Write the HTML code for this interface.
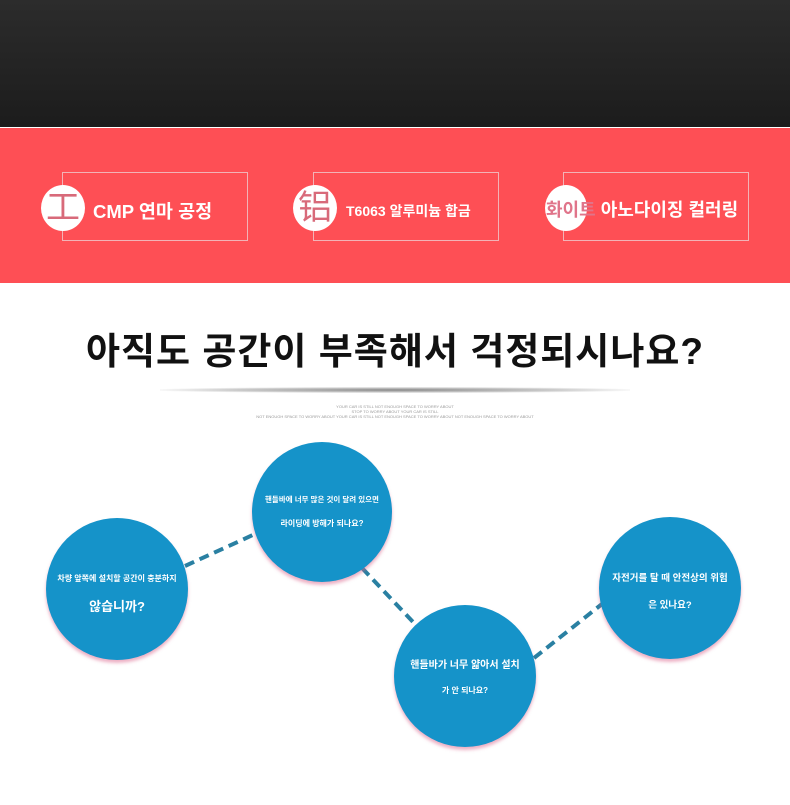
<!DOCTYPE html>
<html><head><meta charset="utf-8"><style>
body{margin:0;width:790px;height:805px;position:relative;overflow:hidden;background:#fff;font-family:"Liberation Sans","Noto Sans CJK KR",sans-serif}
.top{position:absolute;left:0;top:0;width:790px;height:127px;background:linear-gradient(#2c2c2c,#1c1c1c)}
.red{position:absolute;left:0;top:128px;width:790px;height:155px;background:#fe4f55}
.box{position:absolute;top:172px;width:186px;height:69px;border:1px solid #f2b3b7;box-sizing:border-box}
.ic{position:absolute;top:185px;width:44px;height:46px;border-radius:50%;background:#fff;color:#d86a7a;font-size:34px;line-height:46px;text-align:center}
.lb{position:absolute;color:#fff;font-weight:bold;white-space:nowrap}
h1{position:absolute;left:0;width:790px;top:321px;margin:0;text-align:center;font-size:37px;font-weight:bold;color:#111;letter-spacing:1px}
.sm{position:absolute;left:0;width:790px;text-align:center;font-size:4px;color:#999;line-height:5px}
.c{position:absolute;border-radius:50%;background:#1593c9;box-shadow:0 3px 3px rgba(220,100,140,.5);color:#fff;text-align:center;font-weight:bold}
</style></head><body>
<div class="top"></div>
<div class="red"></div>
<div class="box" style="left:62px"></div>
<div class="box" style="left:313px"></div>
<div class="box" style="left:563px"></div>
<div class="ic" style="left:41px">工</div>
<div class="ic" style="left:293px">铝</div>
<div class="ic" style="left:545px;width:42px"></div>
<div class="lb" style="left:93px;top:198px;font-size:18.5px">CMP 연마 공정</div>
<div class="lb" style="left:346px;top:201px;font-size:14px">T6063 알루미늄 합금</div>
<div class="lb" style="left:546px;top:196px;font-size:18px"><span style="color:#e0748a">화이트</span> 아노다이징 컬러링</div>
<h1>아직도 공간이 부족해서 걱정되시나요?</h1>
<div style="position:absolute;left:160px;top:387px;width:470px;height:6px;background:radial-gradient(ellipse at center,#888 0%,#ccc 50%,rgba(255,255,255,0) 75%)"></div>
<div class="sm" style="top:404px">YOUR CAR IS STILL NOT ENOUGH SPACE TO WORRY ABOUT<br>STOP TO WORRY ABOUT YOUR CAR IS STILL<br>NOT ENOUGH SPACE TO WORRY ABOUT YOUR CAR IS STILL NOT ENOUGH SPACE TO WORRY ABOUT NOT ENOUGH SPACE TO WORRY ABOUT</div>
<svg style="position:absolute;left:0;top:0" width="790" height="805">
<g stroke="#2a80a2" stroke-width="4" stroke-dasharray="10,6">
<line x1="185" y1="566" x2="255" y2="534"/>
<line x1="362" y1="568" x2="413" y2="622"/>
<line x1="534" y1="658" x2="602" y2="604"/>
</g></svg>
<div class="c" style="left:46px;top:518px;width:142px;height:142px"><div style="font-size:8px;margin-top:55px">차량 앞쪽에 설치할 공간이 충분하지</div><div style="font-size:13px;margin-top:12px">않습니까?</div></div>
<div class="c" style="left:252px;top:442px;width:140px;height:140px"><div style="font-size:7.5px;margin-top:52px">핸들바에 너무 많은 것이 달려 있으면</div><div style="font-size:8px;margin-top:13px">라이딩에 방해가 되나요?</div></div>
<div class="c" style="left:394px;top:605px;width:142px;height:142px"><div style="font-size:10px;margin-top:51px">핸들바가 너무 얇아서 설치</div><div style="font-size:8px;margin-top:14px">가 안 되나요?</div></div>
<div class="c" style="left:599px;top:517px;width:142px;height:142px"><div style="font-size:9.5px;margin-top:53px">자전거를 탈 때 안전상의 위험</div><div style="font-size:9.5px;margin-top:13px">은 있나요?</div></div>
</body></html>
